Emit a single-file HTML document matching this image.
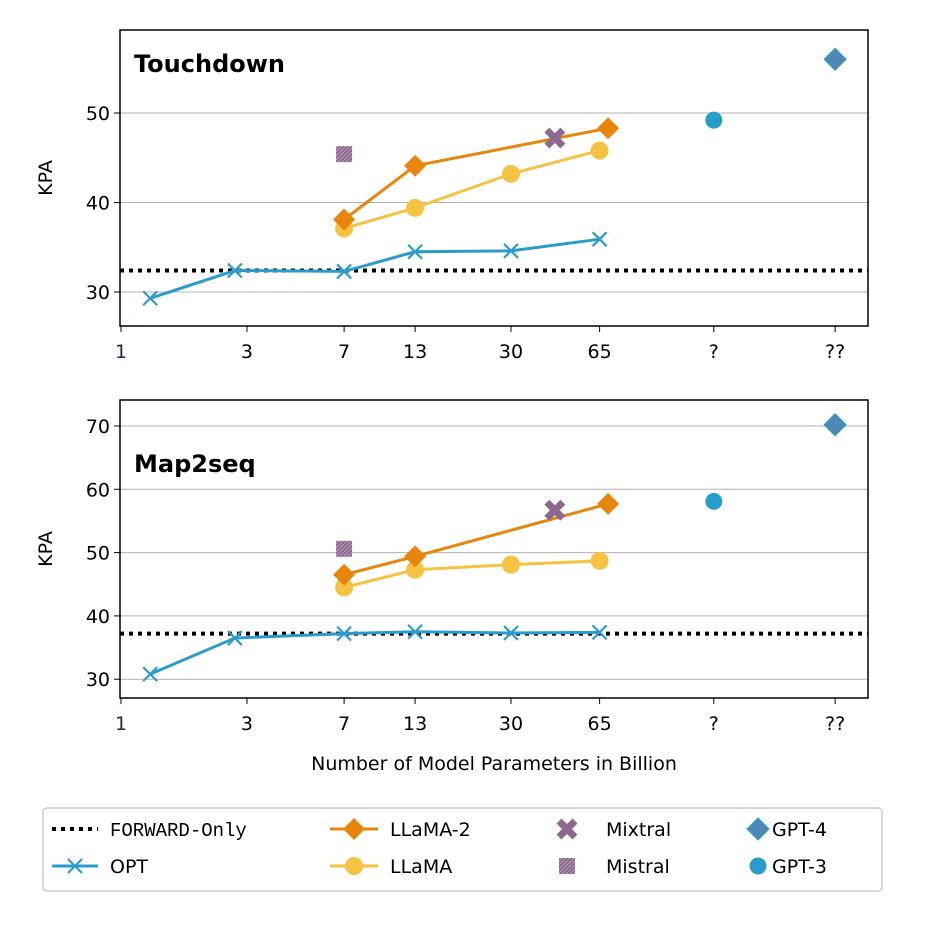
<!DOCTYPE html>
<html><head><meta charset="utf-8"><style>
body{margin:0;background:#fff;}
svg text{font-family:"DejaVu Sans","Liberation Sans",sans-serif;}
svg text.mono{font-family:"Liberation Mono",monospace;}
</style></head><body>
<svg id="c" width="929" height="929" viewBox="0 0 929 929" xmlns="http://www.w3.org/2000/svg">
<defs>
<pattern id="hatch" width="4" height="4" patternUnits="userSpaceOnUse"><rect width="4" height="4" fill="#8c6a8f"/><path d="M0,4 L4,0" stroke="#b79ab9" stroke-width="1"/></pattern>
<pattern id="hatch4" width="4" height="4" patternUnits="userSpaceOnUse"><rect width="4" height="4" fill="#2a9ccb"/><path d="M0,4 L4,0" stroke="#8c6a8f" stroke-width="1.2"/></pattern>
</defs>
</svg>
<script>
const xTickVals=[1,3,7,13,30,65,176,507];
const xTickLabels=["1","3","7","13","30","65","?","??"];
const optX=[1.29,2.7,7,13,30,65];
const llama2X=[7,13,70];
const llamaX=[7,13,30,65];
const mistralX=7, mixtralX=44, gpt3X=176, gpt4X=507;
const topOPT=[29.3,32.4,32.3,34.5,34.6,35.9];
const topLLaMA2=[38.1,44.1,48.3];
const topLLaMA=[37.1,39.4,43.2,45.8];
const topSingles={mistral:45.4,mixtral:47.2,gpt3:49.2,gpt4:56.0,forward:32.4};
const botOPT=[30.8,36.5,37.2,37.5,37.3,37.4];
const botLLaMA2=[46.5,49.4,57.7];
const botLLaMA=[44.5,47.3,48.1,48.7];
const botSingles={mistral:50.6,mixtral:56.7,gpt3:58.1,gpt4:70.2,forward:37.2};
const topYTicks=[30,40,50];
const botYTicks=[30,40,50,60,70];

const svg=document.getElementById('c');
const NS="http://www.w3.org/2000/svg";
function el(tag,attrs,parent){const e=document.createElementNS(NS,tag);for(const k in attrs)e.setAttribute(k,attrs[k]);(parent||svg).appendChild(e);return e;}
const X0=121,PXD=264;
function xs(v){return X0+Math.log10(v)*PXD;}
const BLUE="#2a9ccb",ORANGE="#e8850c",YEL="#f5c242",PURP="#8c6a8f";

function panel(name,top,bottom,yRefVal,yRefPx,pxPer10,yTicks,opt,l2,l,s,title,titleY){
  const ys=v=>yRefPx-(v-yRefVal)*pxPer10/10;
  const g=el('g',{});
  
  
  yTicks.forEach(t=>{
    const y=ys(t);
    const gl=el('line',{x1:120,x2:868,y1:y,y2:y,stroke:'#b0b0b0','stroke-width':1},g);
    
    el('line',{x1:114,x2:120,y1:y,y2:y,stroke:'#000'},g);
    const tx=el('text',{x:110,y:y+7,'text-anchor':'end','font-size':19},g);tx.textContent=t;
    
  });
  xTickVals.forEach((v,i)=>{
    const x=xs(v);
    el('line',{x1:x,x2:x,y1:bottom,y2:bottom+6,stroke:'#000'},g);
    const tx=el('text',{x:x,y:bottom+32,'text-anchor':'middle','font-size':19,fill:i==0?'#3a1a4a':'#000'},g);tx.textContent=xTickLabels[i];
    
  });
  const fw=el('line',{x1:120,x2:868,y1:ys(s.forward),y2:ys(s.forward),stroke:'#000','stroke-width':4,'stroke-dasharray':'4 5'},g);
  
  function line(xv,yv,col,nm){
    const p=el('polyline',{points:xv.map((x,i)=>xs(x)+','+ys(yv[i])).join(' '),fill:'none',stroke:col,'stroke-width':3},g);
    
  }
  line(optX,opt,BLUE,'opt');
  optX.forEach((x,i)=>{const cx=xs(x),cy=ys(opt[i]);
    const m=el('path',{d:`M${cx-7},${cy-7}L${cx+7},${cy+7}M${cx-7},${cy+7}L${cx+7},${cy-7}`,stroke:BLUE,'stroke-width':2.2},g);
    });
  line(llamaX,l,YEL,'llama');
  llamaX.forEach((x,i)=>{const c=el('circle',{cx:xs(x),cy:ys(l[i]),r:9,fill:YEL},g);
    });
  line(llama2X,l2,ORANGE,'llama2');
  llama2X.forEach((x,i)=>{const cx=xs(x),cy=ys(l2[i]);
    const d=el('path',{d:`M${cx},${cy-11}L${cx+11},${cy}L${cx},${cy+11}L${cx-11},${cy}Z`,fill:ORANGE},g);
    });
  let cx=xs(mistralX),cy=ys(s.mistral);
  const ms=el('rect',{x:cx-8,y:cy-8,width:16,height:16,fill:'url(#hatch)'},g);
  
  cx=xs(mixtralX);cy=ys(s.mixtral);
  const mx=el('path',{d:`M${cx-8},${cy-8}L${cx+8},${cy+8}M${cx-8},${cy+8}L${cx+8},${cy-8}`,stroke:PURP,'stroke-width':7},g);
  
  const g3=el('circle',{cx:xs(gpt3X),cy:ys(s.gpt3),r:8.5,fill:BLUE},g);
  
  cx=xs(gpt4X);cy=ys(s.gpt4);
  const g4=el('path',{d:`M${cx},${cy-11}L${cx+11},${cy}L${cx},${cy+11}L${cx-11},${cy}Z`,fill:'url(#hatch4)',stroke:BLUE,'stroke-width':1},g);
  
  el('rect',{x:120,y:top,width:748,height:bottom-top,fill:'none',stroke:'#000','stroke-width':1.5},g);
  const t=el('text',{x:134,y:titleY,'font-size':24,'font-weight':'bold'},g);t.textContent=title;
  
  const yl=el('text',{x:0,y:0,'font-size':19,'text-anchor':'middle',transform:`translate(52,${(top+bottom)/2}) rotate(-90)`},g);yl.textContent='KPA';
  
}
panel('touchdown',30,326,50,113,89.5,topYTicks,topOPT,topLLaMA2,topLLaMA,topSingles,'Touchdown',72);
panel('map2seq',400,698,70,426,63.3,botYTicks,botOPT,botLLaMA2,botLLaMA,botSingles,'Map2seq',472);
const xl=el('text',{x:494,y:770,'text-anchor':'middle','font-size':19});xl.textContent='Number of Model Parameters in Billion';


const lg=el('g',{});


el('rect',{x:43,y:808,width:839,height:83,rx:4,fill:'#fff',stroke:'#ccc','stroke-width':1.5},lg);
function ltext(x,y,s,mono){const t=el('text',{x:x,y:y+7,'font-size':19},lg);if(mono)t.setAttribute('class','mono');t.textContent=s;
  }
el('line',{x1:52,x2:98,y1:829,y2:829,stroke:'#000','stroke-width':4,'stroke-dasharray':'4 5'},lg);
ltext(110,829,'FORWARD-Only',true);
el('line',{x1:52,x2:98,y1:866,y2:866,stroke:BLUE,'stroke-width':3},lg);
el('path',{d:'M68,859L82,873M68,873L82,859',stroke:BLUE,'stroke-width':2.2},lg);
ltext(110,866,'OPT');
el('line',{x1:330,x2:378,y1:829,y2:829,stroke:ORANGE,'stroke-width':3},lg);
el('path',{d:'M354,818L365,829L354,840L343,829Z',fill:ORANGE},lg);
ltext(390,829,'LLaMA-2');
el('line',{x1:330,x2:378,y1:866,y2:866,stroke:YEL,'stroke-width':3},lg);
el('circle',{cx:354,cy:866,r:9,fill:YEL},lg);
ltext(390,866,'LLaMA');
el('path',{d:'M559,821L575,837M559,837L575,821',stroke:PURP,'stroke-width':7},lg);
ltext(606,829,'Mixtral');
el('rect',{x:559,y:858,width:16,height:16,fill:'url(#hatch)'},lg);
ltext(606,866,'Mistral');
el('path',{d:'M758,818L769,829L758,840L747,829Z',fill:'url(#hatch4)',stroke:BLUE},lg);
ltext(772,829,'GPT-4');
el('circle',{cx:758,cy:866,r:8.5,fill:BLUE},lg);
ltext(772,866,'GPT-3');
</script>
</body></html>
